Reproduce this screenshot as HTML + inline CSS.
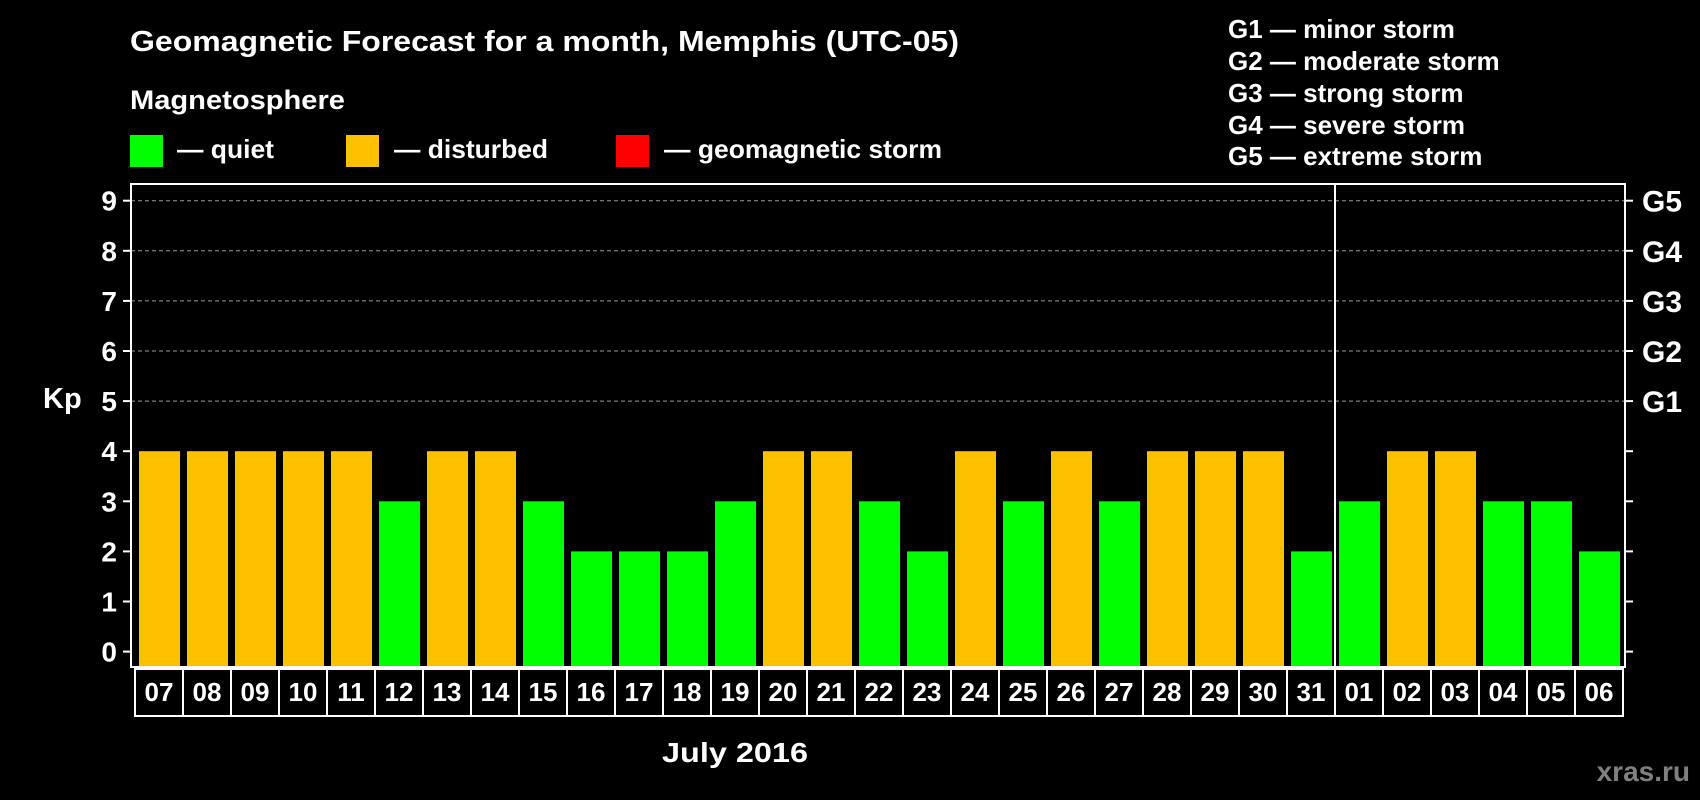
<!DOCTYPE html>
<html><head><meta charset="utf-8"><style>
html,body{margin:0;padding:0;background:#000;width:1700px;height:800px;overflow:hidden}
svg text{font-family:"Liberation Sans",Arial,sans-serif;font-weight:bold;fill:#fff}
</style></head><body>
<svg id="chart" width="1700" height="800" xmlns="http://www.w3.org/2000/svg">
<rect width="1700" height="800" fill="#000"/>
<text x="130" y="51" font-size="29" textLength="829" lengthAdjust="spacingAndGlyphs">Geomagnetic Forecast for a month, Memphis (UTC-05)</text>
<text x="130" y="109" font-size="27" textLength="215" lengthAdjust="spacingAndGlyphs">Magnetosphere</text>
<rect x="130" y="135" width="33" height="32" fill="#00ff00"/>
<text x="177" y="158" font-size="26" textLength="97" lengthAdjust="spacingAndGlyphs">— quiet</text>
<rect x="346" y="135" width="33" height="32" fill="#ffc000"/>
<text x="394" y="158" font-size="26" textLength="154" lengthAdjust="spacingAndGlyphs">— disturbed</text>
<rect x="616" y="135" width="33" height="32" fill="#ff0000"/>
<text x="664" y="158" font-size="26" textLength="278" lengthAdjust="spacingAndGlyphs">— geomagnetic storm</text>
<g font-size="26">
<text x="1228" y="38">G1 — minor storm</text>
<text x="1228" y="70">G2 — moderate storm</text>
<text x="1228" y="102">G3 — strong storm</text>
<text x="1228" y="134">G4 — severe storm</text>
<text x="1228" y="165">G5 — extreme storm</text>
</g>
<text x="43" y="408" font-size="29">Kp</text>
<g id="grid"></g><g id="bars"></g><g id="axes"></g><g id="dates"></g>
<text x="662" y="762" font-size="28" textLength="146" lengthAdjust="spacingAndGlyphs">July 2016</text>
<text x="1690" y="781" font-size="28" text-anchor="end" style="fill:#808080">xras.ru</text>
</svg>
<script>
const days = ["07","08","09","10","11","12","13","14","15","16","17","18","19","20","21","22","23","24","25","26","27","28","29","30","31","01","02","03","04","05","06"];
const kpValues = [4,4,4,4,4,3,4,4,3,2,2,2,3,4,4,3,2,4,3,4,3,4,4,4,2,3,4,4,3,3,2];
const yTicks = [0,1,2,3,4,5,6,7,8,9];
const gLabels = ["G1","G2","G3","G4","G5"];
const gLevels = [5,6,7,8,9];
const monthBreak = 25;

const NS="http://www.w3.org/2000/svg";
const L=131,R=1625,T=184,B=667,X0=135,STEP=48;
const y=v=>651.6-v*50.1;
const x=i=>X0+i*STEP;
function mk(tag,attrs,parent){const e=document.createElementNS(NS,tag);for(const k in attrs)e.setAttribute(k,attrs[k]);document.getElementById(parent).appendChild(e);return e;}

gLevels.forEach(v=>{const l=mk('line',{x1:L,x2:R,y1:y(v),y2:y(v),stroke:'#999','stroke-width':1,'stroke-dasharray':'4,3'},'grid');

});

kpValues.forEach((v,i)=>{const c=v>=5?'#ff0000':(v>=4?'#ffc000':'#00ff00');
const r=mk('rect',{x:x(i)+4,y:y(v),width:41,height:B-y(v),fill:c},'bars');

});

const fr=mk('rect',{x:L,y:T,width:R-L,height:B-T,fill:'none',stroke:'#fff','stroke-width':2},'axes');


const sep=mk('line',{x1:x(monthBreak),x2:x(monthBreak),y1:T,y2:B,stroke:'#fff','stroke-width':2},'axes');


yTicks.forEach(v=>{
const t=mk('line',{x1:L-8,x2:L,y1:y(v),y2:y(v),stroke:'#fff','stroke-width':2},'axes');


const t2=mk('line',{x1:R,x2:R+8,y1:y(v),y2:y(v),stroke:'#fff','stroke-width':2},'axes');


const tx=mk('text',{x:117,y:y(v)+10,'font-size':28,'text-anchor':'end'},'axes');tx.textContent=v;

});
gLevels.forEach((v,i)=>{const tx=mk('text',{x:1642,y:y(v)+11,'font-size':30},'axes');tx.textContent=gLabels[i];

});

days.forEach((d,i)=>{
const c=mk('rect',{x:x(i),y:669,width:STEP,height:47,fill:'#000',stroke:'#fff','stroke-width':2},'dates');


const t=mk('text',{x:x(i)+STEP/2,y:701,'font-size':26,'text-anchor':'middle'},'dates');t.textContent=d;

});
</script>
</body></html>
